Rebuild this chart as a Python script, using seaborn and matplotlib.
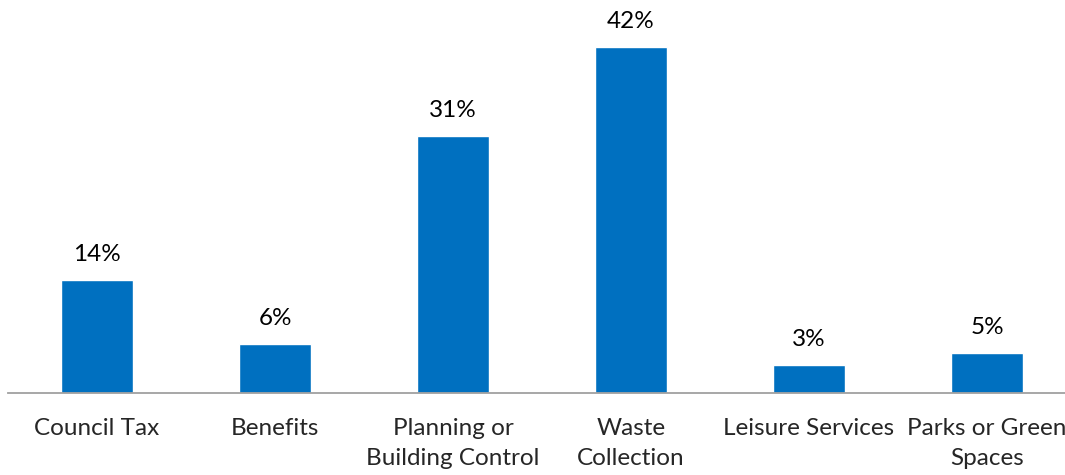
import pandas as pd
import matplotlib.pyplot as plt
import seaborn as sns

categories = ['Council Tax', 'Benefits', 'Planning or\nBuilding Control',
              'Waste\nCollection', 'Leisure Services', 'Parks or Green\nSpaces']
values = [13.8, 6.0, 31.3, 42.2, 3.4, 4.9]

data = pd.DataFrame({'service': categories, 'pct': values})

sns.set_style('white')
plt.rcParams['font.family'] = ['Lato', 'DejaVu Sans']

fig = plt.figure(figsize=(10.65, 4.75), dpi=100)
# axes run slightly past the right edge, as the original is cropped
ax = fig.add_axes([8 / 1065, 82 / 475, 1068 / 1065, 393 / 475])

sns.barplot(data=data, x='service', y='pct', color='#0070C0',
            saturation=1, width=0.4, ax=ax)

for i, v in enumerate(values):
    ax.annotate(f'{v:.0f}%', (i, v), xytext=(0, 11), textcoords='offset points',
                ha='center', va='bottom', fontsize=17.5, color='black')

ax.set_ylim(0, 393 / 8.2)
ax.set_xlim(-0.5, len(categories) - 0.5)
ax.set_xlabel('')
ax.set_ylabel('')
ax.set_yticks([])
for side in ['top', 'right', 'left']:
    ax.spines[side].set_visible(False)
ax.spines['bottom'].set_color('#A0A0A0')
ax.spines['bottom'].set_linewidth(1.3)
ax.tick_params(axis='x', length=0, pad=18, labelsize=17.5)
for lbl in ax.get_xticklabels():
    lbl.set_linespacing(1.55)

fig.savefig('out.png', dpi=100)
